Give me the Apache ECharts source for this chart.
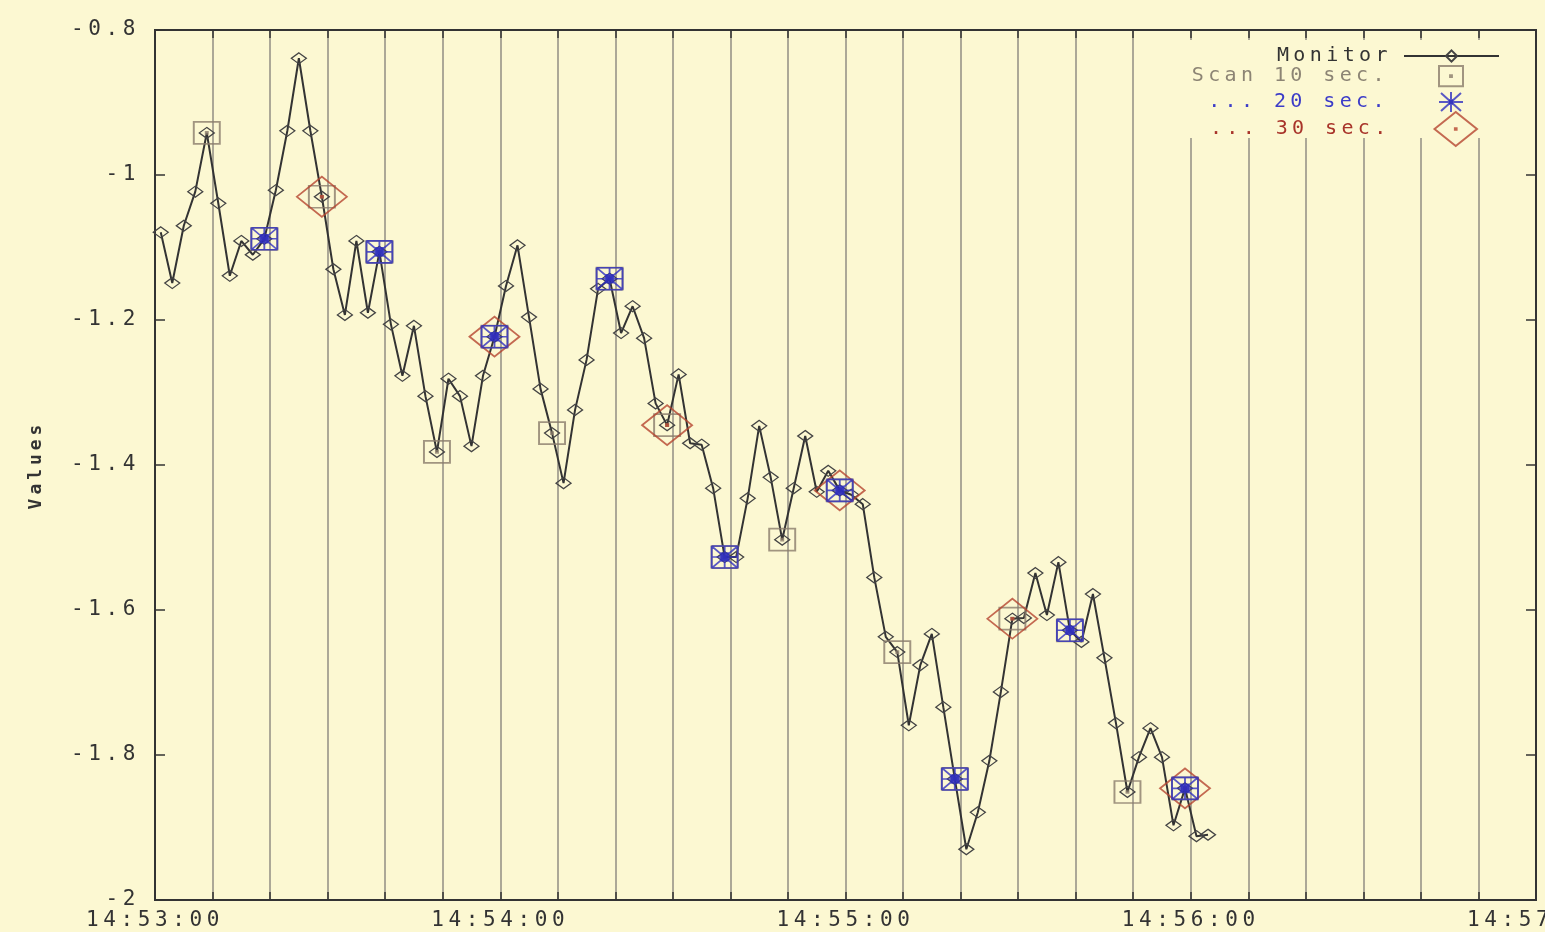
<!DOCTYPE html>
<html>
<head>
<meta charset="utf-8">
<title>Monitor / Scan</title>
<script src="https://cdn.jsdelivr.net/npm/echarts@6/dist/echarts.min.js"></script>
<style>
  html, body { margin: 0; padding: 0; background: #fcf8d2; }
  #chart { width: 1545px; height: 932px; }
</style>
</head>
<body>
<div id="chart"></div>
<script>
// Seconds after 14:53:00 for each monitor sample, and the sampled values
const monitorTimes = [
  1, 3, 5, 7, 9, 11, 13, 15, 17, 19, 21, 23, 25, 27, 29, 31, 33, 35, 37, 39,
  41, 43, 45, 47, 49, 51, 53, 55, 57, 59, 61, 63, 65, 67, 69, 71, 73, 75, 77, 79,
  81, 83, 85, 87, 89, 91, 93, 95, 97, 99, 101, 103, 105, 107, 109, 111, 113, 115, 117, 119,
  121, 123, 125, 127, 129, 131, 133, 135, 137, 139, 141, 143, 145, 147, 149, 151, 153, 155, 157, 159,
  161, 163, 165, 167, 169, 171, 173, 175, 177, 179, 181, 183
];
const monitorValues = [
  -1.079, -1.149, -1.070, -1.023, -0.942, -1.039, -1.139, -1.091, -1.110, -1.088,
  -1.021, -0.939, -0.839, -0.939, -1.030, -1.130, -1.193, -1.091, -1.190, -1.106,
  -1.206, -1.277, -1.208, -1.305, -1.382, -1.281, -1.305, -1.374, -1.277, -1.223,
  -1.153, -1.097, -1.196, -1.295, -1.356, -1.425, -1.324, -1.255, -1.157, -1.143,
  -1.218, -1.181, -1.225, -1.315, -1.345, -1.275, -1.370, -1.372, -1.432, -1.527,
  -1.527, -1.446, -1.346, -1.417, -1.503, -1.432, -1.360, -1.437, -1.408, -1.435,
  -1.441, -1.454, -1.555, -1.637, -1.658, -1.759, -1.676, -1.633, -1.734, -1.833,
  -1.930, -1.879, -1.808, -1.713, -1.612, -1.611, -1.549, -1.607, -1.534, -1.628,
  -1.644, -1.578, -1.666, -1.756, -1.851, -1.803, -1.763, -1.803, -1.897, -1.846,
  -1.912, -1.910
];

// Scan readings every 10, 20 and 30 seconds
const scan10Times = [9, 19, 29, 39, 49, 59, 69, 79, 89, 99, 109, 119, 129, 139, 149, 159, 169, 179];
const scan10Values = [-0.942, -1.088, -1.030, -1.106, -1.382, -1.223, -1.356, -1.143, -1.345,
                      -1.527, -1.503, -1.435, -1.658, -1.833, -1.612, -1.628, -1.851, -1.846];
const scan20Times = [19, 39, 59, 79, 99, 119, 139, 159, 179];
const scan20Values = [-1.088, -1.106, -1.223, -1.143, -1.527, -1.435, -1.833, -1.628, -1.846];
const scan30Times = [29, 59, 89, 119, 149, 179];
const scan30Values = [-1.030, -1.223, -1.345, -1.435, -1.612, -1.846];

// Labels for the whole-minute ticks of the time axis
const xTickLabels = ['14:53:00', '14:54:00', '14:55:00', '14:56:00', '14:57:00'];
const seriesNames = ['Monitor', 'Scan 10 sec.', '... 20 sec.', '... 30 sec.'];

// Wider character spacing for the typewriter-style monospaced text
(function () {
  const proto = CanvasRenderingContext2D.prototype;
  const fill = proto.fillText;
  proto.fillText = function (text, x, y, maxWidth) {
    const m = /(\d+(?:\.\d+)?)px/.exec(this.font);
    const size = m ? parseFloat(m[1]) : 12;
    if ('letterSpacing' in this) this.letterSpacing = (size * 0.22).toFixed(2) + 'px';
    const r = maxWidth === undefined ? fill.call(this, text, x, y) : fill.call(this, text, x, y, maxWidth);
    if ('letterSpacing' in this) this.letterSpacing = '0px';
    return r;
  };
})();

const FONT = '"DejaVu Sans Mono", "Liberation Mono", monospace';
const INK = '#333333';
const BG = '#fcf8d2';
const SQUARE_COLOR = '#8a7c6c';
const BLUE = '#2626b0';
const RED = '#b5452f';

const zip = (xs, ys) => xs.map((x, i) => [x, ys[i]]);

// Marker shapes
const squareSymbol = 'path://M0,0H26V22H0ZM12,10H14V12H12Z';
const starBoxSymbol = 'path://M0,0H26M26,0V22M26,22H0M0,22V0M13,0V22M0,11H26M0,0L26,22M26,0L0,22M9,7H17V15H9Z';
const starSymbol = 'path://M12,0V20M0,10H24M2,1L22,19M22,1L2,19M10,8H14V12H10Z';
const diamondSymbol = 'path://M0,20L25,0L50,20L25,40ZM24,19H26V21H24Z';

const chart = echarts.init(document.getElementById('chart'), null, { renderer: 'canvas' });

function timeAxis(position, showLabels) {
  return {
    type: 'value',
    position: position,
    min: 0,
    max: 240,
    interval: 10,
    axisLine: { show: true, onZero: false, lineStyle: { color: INK, width: 2 } },
    axisTick: { show: true, inside: true, length: 8, lineStyle: { color: INK, width: 1.5 } },
    splitLine: { show: showLabels, lineStyle: { color: '#aca897', width: 2 } },
    axisLabel: {
      show: showLabels,
      margin: 10,
      color: INK,
      fontFamily: FONT,
      fontSize: 21,
      showMaxLabel: true,
      formatter: v => (v % 60 === 0 ? xTickLabels[v / 60] : '')
    }
  };
}

function valueAxis(position, showLabels) {
  const axis = {
    type: 'value',
    position: position,
    min: -2,
    max: -0.8,
    interval: 0.2,
    axisLine: { show: true, onZero: false, lineStyle: { color: INK, width: 2 } },
    axisTick: { show: true, inside: true, length: 10, lineStyle: { color: INK, width: 1.5 } },
    splitLine: { show: false },
    axisLabel: { show: showLabels, margin: 15, color: INK, fontFamily: FONT, fontSize: 21 }
  };
  if (showLabels) {
    axis.name = 'Values';
    axis.nameLocation = 'middle';
    axis.nameRotate = 90;
    axis.nameGap = 110;
    axis.nameTextStyle = { color: INK, fontFamily: FONT, fontSize: 18, fontWeight: 'bold' };
  }
  return axis;
}

function legendEntry(name, opts) {
  return Object.assign({
    data: [name],
    orient: 'vertical',
    align: 'right',
    padding: 0,
    selectedMode: false,
    z: 10,
    textStyle: { fontFamily: FONT, fontSize: 20 }
  }, opts);
}

chart.setOption({
  animation: false,
  backgroundColor: BG,
  grid: {
    left: 155, right: 9, top: 30, bottom: 32,
    outerBoundsMode: 'none',
    containLabel: false,
    show: true, borderColor: INK, borderWidth: 2, backgroundColor: 'transparent'
  },
  xAxis: [timeAxis('bottom', true), timeAxis('top', false)],
  yAxis: [valueAxis('left', true), valueAxis('right', false)],
  graphic: [{
    type: 'rect',
    silent: true,
    z: 5,
    shape: { x: 1165, y: 40, width: 368, height: 98 },
    style: { fill: BG }
  }],
  legend: [
    legendEntry(seriesNames[0], {
      right: 45, top: 46, itemWidth: 95, itemHeight: 14,
      textStyle: { fontFamily: FONT, fontSize: 20, color: INK, padding: [0, 7, 0, 0] }
    }),
    legendEntry(seriesNames[1], {
      data: [{ name: seriesNames[1], icon: squareSymbol }],
      right: 81, top: 65, itemWidth: 24, itemHeight: 22,
      textStyle: { fontFamily: FONT, fontSize: 20, color: '#8c8474', padding: [0, 45, 0, 0] }
    }),
    legendEntry(seriesNames[2], {
      data: [{ name: seriesNames[2], icon: starSymbol }],
      right: 81, top: 91, itemWidth: 24, itemHeight: 20,
      textStyle: { fontFamily: FONT, fontSize: 20, color: '#3c3cc8', padding: [0, 45, 0, 0] }
    }),
    legendEntry(seriesNames[3], {
      data: [{ name: seriesNames[3], icon: diamondSymbol }],
      right: 67, top: 111, itemWidth: 46, itemHeight: 34,
      textStyle: { fontFamily: FONT, fontSize: 20, color: '#a8342a', padding: [0, 37, 0, 0] }
    })
  ],
  series: [
    {
      name: seriesNames[0],
      type: 'line',
      data: zip(monitorTimes, monitorValues),
      symbol: 'diamond',
      symbolSize: [15, 11],
      showAllSymbol: true,
      lineStyle: { color: '#333333', width: 2 },
      itemStyle: { color: 'rgba(0,0,0,0)', borderColor: '#444444', borderWidth: 1.3 },
      z: 2
    },
    {
      name: seriesNames[1],
      type: 'scatter',
      data: zip(scan10Times, scan10Values),
      symbol: squareSymbol,
      symbolSize: [26, 22],
      itemStyle: { color: 'rgba(0,0,0,0)', borderColor: SQUARE_COLOR, borderWidth: 1.8 },
      z: 3
    },
    {
      name: seriesNames[3],
      type: 'scatter',
      data: zip(scan30Times, scan30Values),
      symbol: diamondSymbol,
      symbolSize: [50, 40],
      itemStyle: { color: 'rgba(0,0,0,0)', borderColor: RED, borderWidth: 1.8 },
      z: 4
    },
    {
      name: seriesNames[2],
      type: 'scatter',
      data: zip(scan20Times, scan20Values),
      symbol: starBoxSymbol,
      symbolSize: [26, 22],
      itemStyle: { color: BLUE, borderColor: '#3030c0', borderWidth: 1.7 },
      z: 5
    }
  ]
});
</script>
</body>
</html>
